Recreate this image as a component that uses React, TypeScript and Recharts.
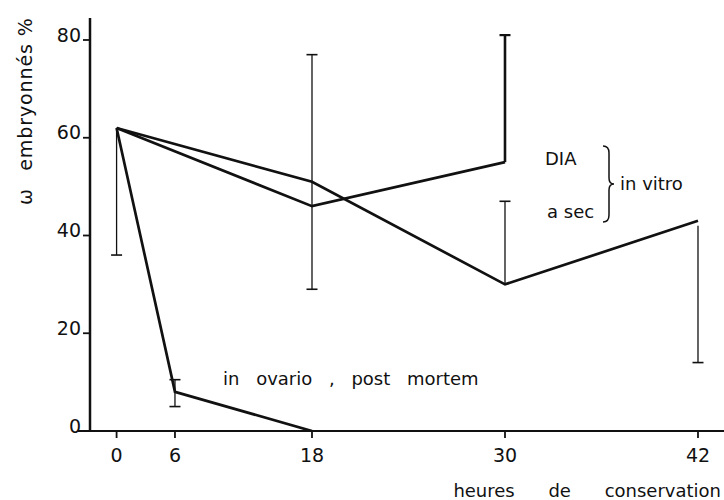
import React from 'react';
import { ComposedChart, Line, XAxis, YAxis, ReferenceLine, Customized } from 'recharts';

// ---- data ----
const hours = [0, 6, 18, 30, 42];
const hourTickLabels = ['0', '6', '18', '30', '42'];
// the original hand-drawn time axis: where each hour mark sits on a linear time scale
const drawnHourPos = [5.85, 9.48, 18, 30, 42];
const yTicks = [0, 20, 40, 60, 80];

const diaHours = [0, 18, 30];
const diaValues = [62, 46, 55];

const secHours = [0, 18, 30, 42];
const secValues = [62, 51, 30, 43];

const ovarioHours = [0, 6, 18];
const ovarioValues = [62, 8, 0];

// error bars (vertical ranges); cap always at "to", optionally at "from"
const errHours = [0, 6, 18, 30, 30, 42];
const errFrom = [62, 5, 29, 55, 30, 42];
const errTo = [36, 10.5, 77, 81, 47, 14];
const errCapAtFrom = [false, true, true, false, false, false];

// ---- styles ----
const INK = '#111';
const FONT = 'DejaVu Sans';
const heavyErr = new Set([3]);

const pos = (h: number) => drawnHourPos[hours.indexOf(h)];
const series = (hs: number[], vs: number[]) => hs.map((h, i) => ({ x: pos(h), y: vs[i] }));

const diaData = series(diaHours, diaValues);
const secData = series(secHours, secValues);
const ovarioData = series(ovarioHours, ovarioValues);
const errData = errHours.map((h, i) => [
  { x: pos(h), y: errFrom[i], cap: errCapAtFrom[i] },
  { x: pos(h), y: errTo[i], cap: true },
]);

const capDot = (w: number) => (props: any) => {
  const { cx, cy, payload, index } = props;
  if (!payload || !payload.cap) return <g key={`c${index}`} />;
  return <line key={`c${index}`} x1={cx - 5.5} x2={cx + 5.5} y1={cy} y2={cy} stroke={INK} strokeWidth={w} />;
};

const YTick = (props: any) => {
  const { x, y, payload } = props;
  return (
    <text x={x} y={y - 5} dy="0.35em" textAnchor="end" fill={INK} fontSize={19} fontFamily={FONT}>
      {payload.value}
    </text>
  );
};

const XTick = (props: any) => {
  const { x, y, payload } = props;
  const i = drawnHourPos.indexOf(payload.value);
  return (
    <text x={x} y={y} dy="0.71em" textAnchor="middle" fill={INK} fontSize={19} fontFamily={FONT}>
      {i >= 0 ? hourTickLabels[i] : payload.value}
    </text>
  );
};

const Annotations = () => (
  <g fontFamily={FONT} fill={INK} fontSize={18}>
    <text x={25} y={94} transform="rotate(-90 25 94)" textAnchor="middle" dominantBaseline="central" fontSize={19} letterSpacing={0.9}>
      embryonnés %
    </text>
    <text x={25} y={197} transform="rotate(-90 25 197)" textAnchor="middle" dominantBaseline="central" fontSize={19}>
      ω
    </text>
    <text x={223} y={385} wordSpacing={11}>in ovario , post mortem</text>
    <text x={545} y={165}>DIA</text>
    <text x={547} y={218}>a sec</text>
    <text x={620} y={190}>in vitro</text>
    <path
      d="M 603 146 Q 609 146 609 153 L 609 178 Q 609 184 614 184 Q 609 184 609 190 L 609 215 Q 609 222 603 222"
      fill="none"
      stroke={INK}
      strokeWidth={1.5}
    />
    <text x={721} y={497} textAnchor="end" wordSpacing={28}>heures de conservation</text>
  </g>
);

export default function App() {
  return (
    <div style={{ position: 'absolute', left: 0, top: 0, width: 724, height: 500, background: '#fff', fontFamily: FONT }}>
      <ComposedChart width={724} height={500} margin={{ top: 18, right: 0, bottom: 0, left: 0 }}>
        <XAxis
          type="number"
          dataKey="x"
          domain={[4.197, 43.617]}
          allowDataOverflow
          ticks={drawnHourPos}
          tick={<XTick />}
          tickSize={7}
          tickMargin={11}
          height={69}
          axisLine={{ stroke: INK, strokeWidth: 2 }}
          tickLine={{ stroke: INK, strokeWidth: 1.8 }}
          interval={0}
        />
        <YAxis
          type="number"
          dataKey="y"
          domain={[0, 84.5]}
          allowDataOverflow
          ticks={yTicks}
          tick={<YTick />}
          tickSize={7}
          tickMargin={2}
          width={90}
          axisLine={{ stroke: INK, strokeWidth: 2.5 }}
          tickLine={{ stroke: INK, strokeWidth: 1.8 }}
          interval={0}
        />
        <ReferenceLine
          segment={[{ x: 3.45, y: 0 }, { x: 4.197, y: 0 }]}
          stroke={INK}
          strokeWidth={2}
          ifOverflow="visible"
        />
        {errData.map((d, i) => (
          <Line
            key={`err${i}`}
            data={d}
            dataKey="y"
            stroke={INK}
            strokeWidth={heavyErr.has(i) ? 2.6 : 1.3}
            dot={capDot(heavyErr.has(i) ? 2.2 : 1.6)}
            activeDot={false}
            isAnimationActive={false}
            legendType="none"
          />
        ))}
        <Line data={diaData} dataKey="y" stroke={INK} strokeWidth={2.7} dot={false} activeDot={false} isAnimationActive={false} />
        <Line data={secData} dataKey="y" stroke={INK} strokeWidth={2.7} dot={false} activeDot={false} isAnimationActive={false} />
        <Line data={ovarioData} dataKey="y" stroke={INK} strokeWidth={2.7} dot={false} activeDot={false} isAnimationActive={false} />
        <Customized component={Annotations} />
      </ComposedChart>
    </div>
  );
}
